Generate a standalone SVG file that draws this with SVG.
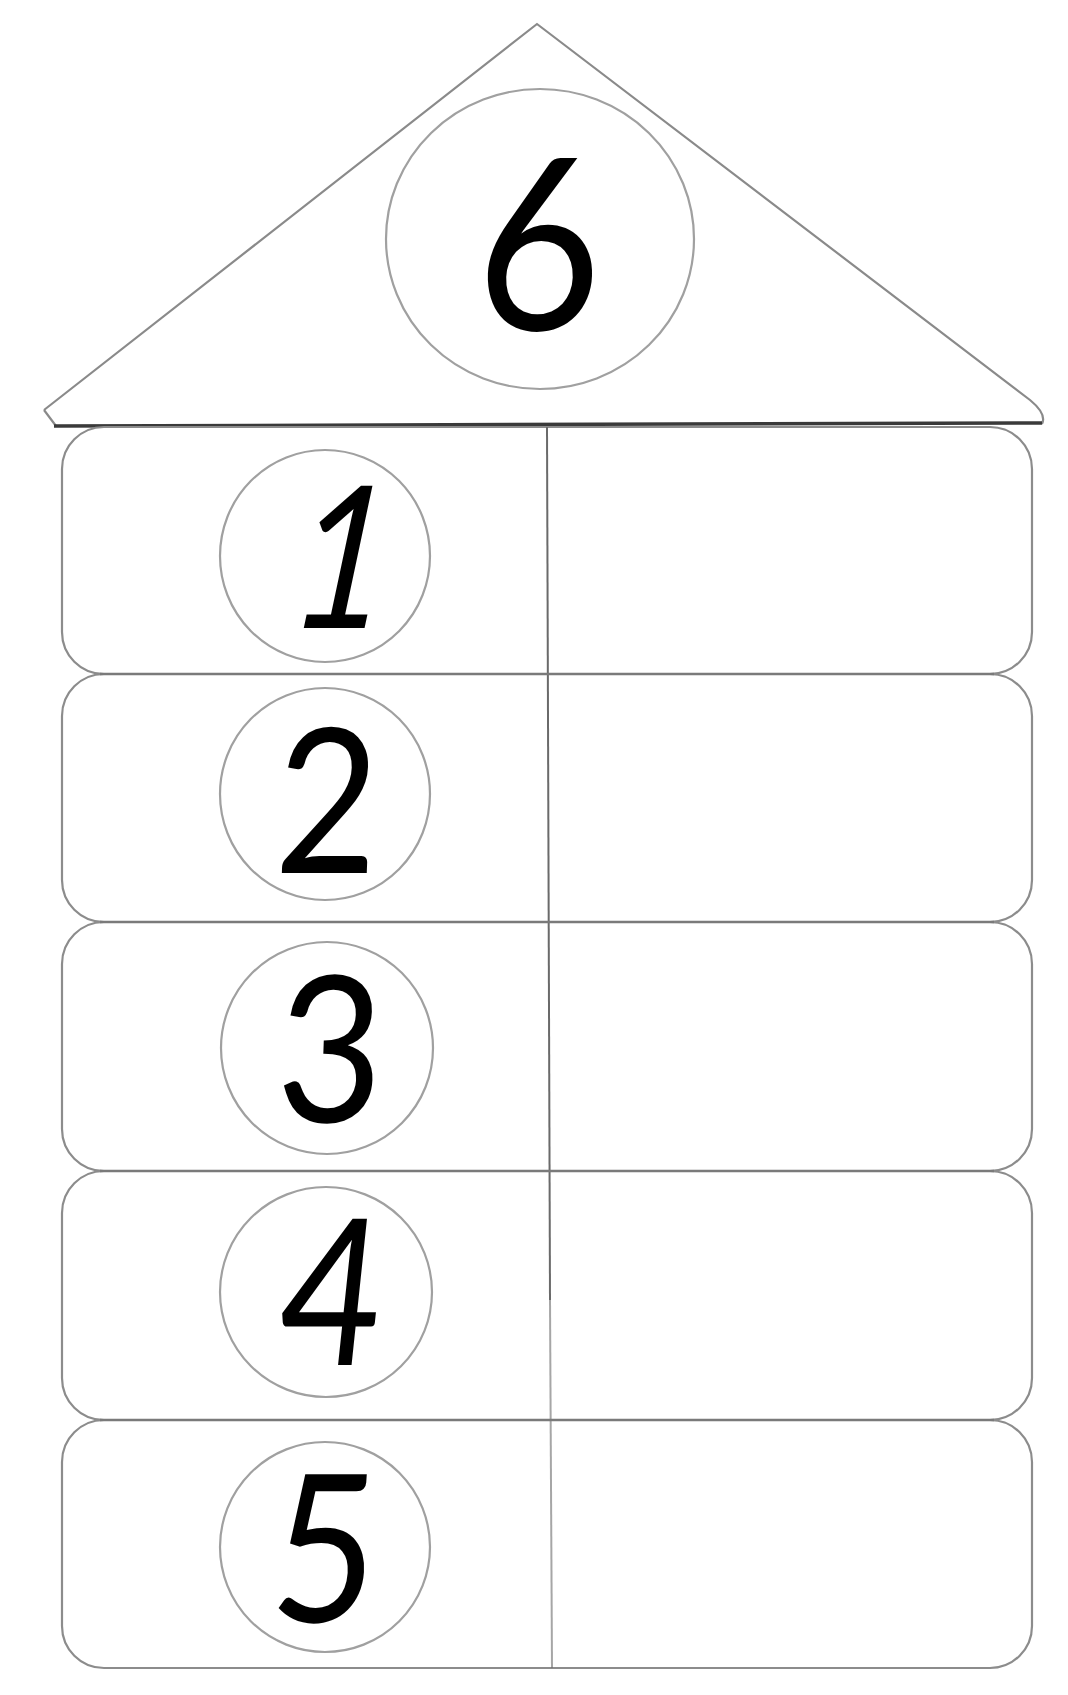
<svg xmlns="http://www.w3.org/2000/svg" width="1068" height="1695" viewBox="0 0 1068 1695">
<style>
.roof{fill:none;stroke:#8a8a8a;stroke-width:2.2;stroke-linejoin:round}
.base{fill:none;stroke:#3a3a3a;stroke-width:3.5}
.row{fill:none;stroke:#8c8c8c;stroke-width:2.2}
.ring{fill:none;stroke:#a0a0a0;stroke-width:2.2}
.div{stroke:#6a6a6a;stroke-width:2}
.hdiv{stroke:#7a7a7a;stroke-width:2.6}
.num{font-family:Lato,"Liberation Sans","DejaVu Sans",sans-serif;font-weight:400;fill:#000;text-anchor:middle}
</style>
<rect width="1068" height="1695" fill="#fff"/>
<g id="roof">
<path class="roof" d="M 44 410 L 537 24 L 1030 400 Q 1047 414 1042 424"/>
<path class="roof" d="M 44 410 L 56 426"/>
<path class="base" d="M 54 426 L 1042 423"/>
</g>
<g id="top-number">
<ellipse class="ring" cx="540" cy="239" rx="154" ry="150"/>
<text class="num" x="537" y="330" font-size="240" transform="translate(537 330) skewX(-2) scale(0.9 1) translate(-537 -330)">6</text>
</g>
<g id="row-1">
<rect class="row" x="62" y="427" width="970" height="247" rx="42" ry="42"/>
<ellipse class="ring" cx="325" cy="556" rx="105" ry="106"/>
<text class="num" x="330" y="628" font-size="198" transform="translate(330 628) skewX(-12) scale(0.8 1) translate(-330 -628)">1</text>
</g>
<g id="row-2">
<rect class="row" x="62" y="674" width="970" height="248" rx="42" ry="42"/>
<ellipse class="ring" cx="325" cy="794" rx="105" ry="106"/>
<text class="num" x="325" y="873" font-size="202" transform="translate(325 873) skewX(-2) scale(0.88 1) translate(-325 -873)">2</text>
</g>
<g id="row-3">
<rect class="row" x="62" y="922" width="970" height="249" rx="42" ry="42"/>
<ellipse class="ring" cx="327" cy="1048" rx="106" ry="106"/>
<text class="num" x="328" y="1122" font-size="204" transform="translate(328 1122) skewX(-2) scale(0.9 1) translate(-328 -1122)">3</text>
</g>
<g id="row-4">
<rect class="row" x="62" y="1171" width="970" height="249" rx="42" ry="42"/>
<ellipse class="ring" cx="326" cy="1292" rx="106" ry="105"/>
<text class="num" x="325" y="1365" font-size="204" transform="translate(325 1365) skewX(-6) scale(0.85 1) translate(-325 -1365)">4</text>
</g>
<g id="row-5">
<rect class="row" x="62" y="1420" width="970" height="248" rx="42" ry="42"/>
<ellipse class="ring" cx="325" cy="1547" rx="105" ry="105"/>
<text class="num" x="320" y="1622" font-size="206" transform="translate(320 1622) skewX(-4) scale(0.88 1) translate(-320 -1622)">5</text>
</g>
<g id="connectors">
<line class="div" x1="547" y1="427" x2="550" y2="1300"/>
<line class="div" x1="550" y1="1300" x2="552" y2="1668" stroke-opacity="0.6"/>
<line class="hdiv" x1="100" y1="674" x2="994" y2="674"/>
<line class="hdiv" x1="100" y1="922" x2="994" y2="922"/>
<line class="hdiv" x1="100" y1="1171" x2="994" y2="1171"/>
<line class="hdiv" x1="100" y1="1420" x2="994" y2="1420"/>
</g>
</svg>
